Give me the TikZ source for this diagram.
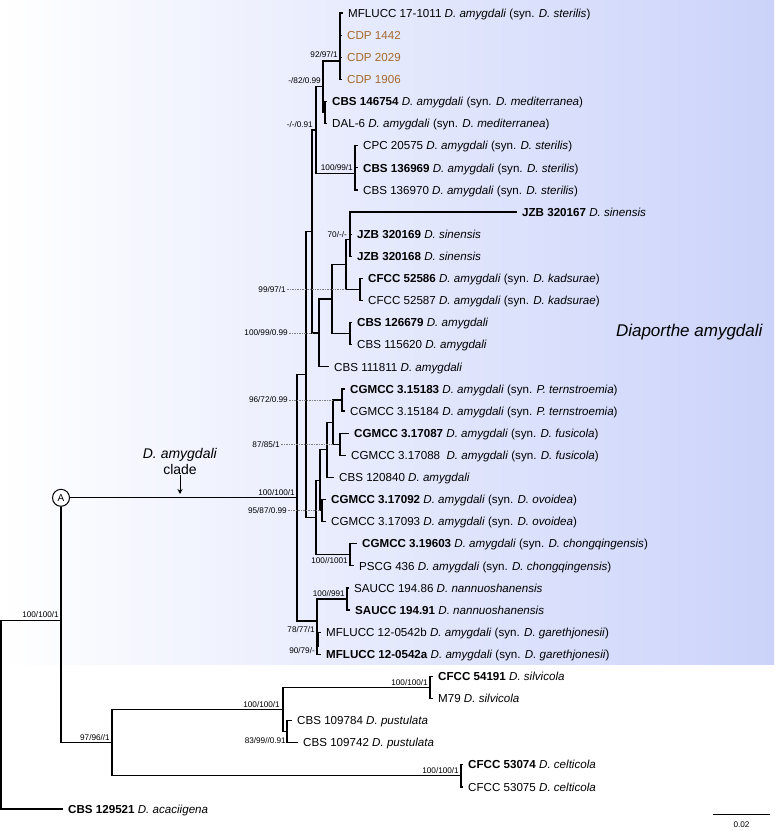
\documentclass[tikz,border=0pt]{standalone}
\usepackage{fontspec}
\setmainfont{Liberation Sans}
\usetikzlibrary{arrows.meta}
\definecolor{cladeblue}{RGB}{203,211,250}
\definecolor{cdpbrown}{RGB}{165,105,45}
\begin{document}
\begin{tikzpicture}[x=1pt,y=-1pt,
  br/.style={line width=1.2pt},
  leaf/.style={anchor=west, inner xsep=5pt, inner ysep=0pt, text height=8.4pt, text depth=0pt, font=\fontsize{11.6}{13}\selectfont},
  sup/.style={inner sep=1pt, font=\fontsize{8.2}{9}\selectfont},
  leader/.style={gray, line width=0.5pt, dash pattern=on 1.5pt off 1pt}]
\useasboundingbox (0,0) rectangle (774,830);
\shade[left color=white, right color=cladeblue] (0,0) rectangle (774,664);

% internal nodes
\coordinate (R0) at (1,714.6);
\coordinate (nA0) at (61,620.2);
\coordinate (nClade) at (297,497.8);
\coordinate (W) at (306,374.5);
\coordinate (X) at (312,231.5);
\coordinate (M) at (316,130);
\coordinate (N2) at (323,86.7);
\coordinate (N1) at (340,61);
\coordinate (N4) at (325,112.5);
\coordinate (N3) at (355,173.3);
\coordinate (Y) at (319,332.9);
\coordinate (Z) at (332,299);
\coordinate (P) at (346,264.5);
\coordinate (Q) at (350,239.6);
\coordinate (R) at (360,289.4);
\coordinate (Q2) at (350,333.6);
\coordinate (V) at (316,517.4);
\coordinate (U) at (320,480.1);
\coordinate (K) at (327,449.7);
\coordinate (J) at (333,422.1);
\coordinate (G83) at (342,400);
\coordinate (G87) at (340,444.2);
\coordinate (G92) at (322,510.5);
\coordinate (G19) at (350,554.7);
\coordinate (nM) at (317,621);
\coordinate (S86) at (347,599);
\coordinate (n97) at (112,742.6);
\coordinate (n100) at (283,709.5);
\coordinate (nSil) at (430,687.4);
\coordinate (nPus) at (287,731.6);
\coordinate (nCel) at (461,775.8);

% leaves
\node[leaf] (L1) at (343,13.0) {MFLUCC 17-1011 \textit{D. amygdali} (syn. \textit{D. sterilis})};
\node[leaf,text=cdpbrown] (L2) at (342,35.1) {CDP 1442};
\node[leaf,text=cdpbrown] (L3) at (342,57.2) {CDP 2029};
\node[leaf,text=cdpbrown] (L4) at (342,79.3) {CDP 1906};
\node[leaf] (L5) at (327,101.4) {\textbf{CBS 146754} \textit{D. amygdali} (syn. \textit{D. mediterranea})};
\node[leaf] (L6) at (327,123.6) {DAL-6 \textit{D. amygdali} (syn. \textit{D. mediterranea})};
\node[leaf] (L7) at (358,145.7) {CPC 20575 \textit{D. amygdali} (syn. \textit{D. sterilis})};
\node[leaf] (L8) at (358,167.8) {\textbf{CBS 136969} \textit{D. amygdali} (syn. \textit{D. sterilis})};
\node[leaf] (L9) at (358,189.9) {CBS 136970 \textit{D. amygdali} (syn. \textit{D. sterilis})};
\node[leaf] (L10) at (517,212.0) {\textbf{JZB 320167} \textit{D. sinensis}};
\node[leaf] (L11) at (352,234.1) {\textbf{JZB 320169} \textit{D. sinensis}};
\node[leaf] (L12) at (352,256.2) {\textbf{JZB 320168} \textit{D. sinensis}};
\node[leaf] (L13) at (363,278.3) {\textbf{CFCC 52586} \textit{D. amygdali} (syn. \textit{D. kadsurae})};
\node[leaf] (L14) at (363,300.4) {CFCC 52587 \textit{D. amygdali} (syn. \textit{D. kadsurae})};
\node[leaf] (L15) at (352,322.5) {\textbf{CBS 126679} \textit{D. amygdali}};
\node[leaf] (L16) at (352,344.7) {CBS 115620 \textit{D. amygdali}};
\node[leaf] (L17) at (329,366.8) {CBS 111811 \textit{D. amygdali}};
\node[leaf] (L18) at (345,388.9) {\textbf{CGMCC 3.15183} \textit{D. amygdali} (syn. \textit{P. ternstroemia})};
\node[leaf] (L19) at (345,411.0) {CGMCC 3.15184 \textit{D. amygdali} (syn. \textit{P. ternstroemia})};
\node[leaf] (L20) at (349,433.1) {\textbf{CGMCC 3.17087} \textit{D. amygdali} (syn. \textit{D. fusicola})};
\node[leaf] (L21) at (346,455.2) {CGMCC 3.17088\ \ \textit{D. amygdali} (syn. \textit{D. fusicola})};
\node[leaf] (L22) at (334,477.3) {CBS 120840 \textit{D. amygdali}};
\node[leaf] (L23) at (326,499.4) {\textbf{CGMCC 3.17092} \textit{D. amygdali} (syn. \textit{D. ovoidea})};
\node[leaf] (L24) at (326,521.5) {CGMCC 3.17093 \textit{D. amygdali} (syn. \textit{D. ovoidea})};
\node[leaf] (L25) at (357,543.6) {\textbf{CGMCC 3.19603} \textit{D. amygdali} (syn. \textit{D. chongqingensis})};
\node[leaf] (L26) at (354,565.8) {PSCG 436 \textit{D. amygdali} (syn. \textit{D. chongqingensis})};
\node[leaf] (L27) at (349,587.9) {SAUCC 194.86 \textit{D. nannuoshanensis}};
\node[leaf] (L28) at (350,610.0) {\textbf{SAUCC 194.91} \textit{D. nannuoshanensis}};
\node[leaf] (L29) at (321,632.1) {MFLUCC 12-0542b \textit{D. amygdali} (syn. \textit{D. garethjonesii})};
\node[leaf] (L30) at (321,654.2) {\textbf{MFLUCC 12-0542a} \textit{D. amygdali} (syn. \textit{D. garethjonesii})};
\node[leaf] (L31) at (433,676.3) {\textbf{CFCC 54191} \textit{D. silvicola}};
\node[leaf] (L32) at (433,698.4) {M79 \textit{D. silvicola}};
\node[leaf] (L33) at (292,720.5) {CBS 109784 \textit{D. pustulata}};
\node[leaf] (L34) at (298,742.6) {CBS 109742 \textit{D. pustulata}};
\node[leaf] (L35) at (463,764.7) {\textbf{CFCC 53074} \textit{D. celticola}};
\node[leaf] (L36) at (463,786.9) {CFCC 53075 \textit{D. celticola}};
\node[leaf] (L37) at (63,809.0) {\textbf{CBS 129521} \textit{D. acaciigena}};

% A node
\node[circle, draw, line width=1pt, fill=white, minimum size=17pt, inner sep=0pt, font=\fontsize{10}{11}\selectfont] (A) at (61,497.8) {A};

% branches
\draw[br] (R0) |- (nA0);
\draw[br] (R0) |- (L37.west);
\draw[br] (nA0) -- (A);
\draw[br] (nA0) |- (n97);
\draw[br] (A) -- (nClade);
\draw[br] (nClade) |- (W);
\draw[br] (nClade) |- (nM);
\draw[br] (W) |- (X);
\draw[br] (W) |- (V);
\draw[br] (X) |- (M);
\draw[br] (X) |- (Y);
\draw[br] (M) |- (N2);
\draw[br] (M) |- (N3);
\draw[br] (N2) |- (N1);
\draw[br] (N2) |- (N4);
\foreach \l in {L1,L2,L3,L4} \draw[br] (N1) |- (\l.west);
\foreach \l in {L5,L6} \draw[br] (N4) |- (\l.west);
\foreach \l in {L7,L8,L9} \draw[br] (N3) |- (\l.west);
\draw[br] (Y) |- (Z);
\draw[br] (Y) |- (L17.west);
\draw[br] (Z) |- (P);
\draw[br] (Z) |- (Q2);
\draw[br] (P) |- (Q);
\draw[br] (P) |- (R);
\foreach \l in {L10,L11,L12} \draw[br] (Q) |- (\l.west);
\foreach \l in {L13,L14} \draw[br] (R) |- (\l.west);
\foreach \l in {L15,L16} \draw[br] (Q2) |- (\l.west);
\draw[br] (V) |- (U);
\draw[br] (V) |- (G19);
\draw[br] (U) |- (K);
\draw[br] (U) |- (G92);
\draw[br] (K) |- (J);
\draw[br] (K) |- (L22.west);
\draw[br] (J) |- (G83);
\draw[br] (J) |- (G87);
\foreach \l in {L18,L19} \draw[br] (G83) |- (\l.west);
\foreach \l in {L20,L21} \draw[br] (G87) |- (\l.west);
\foreach \l in {L23,L24} \draw[br] (G92) |- (\l.west);
\foreach \l in {L25,L26} \draw[br] (G19) |- (\l.west);
\draw[br] (nM) |- (S86);
\draw[br] (nM) |- (L29.west);
\draw[br] (nM) |- (L30.west);
\draw[line width=3pt] (nM |- L29.west) -- ++(0,15);
\foreach \l in {L27,L28} \draw[br] (S86) |- (\l.west);
\draw[br] (n97) |- (n100);
\draw[br] (n97) |- (nCel);
\draw[br] (n100) |- (nSil);
\draw[br] (n100) |- (nPus);
\foreach \l in {L31,L32} \draw[br] (nSil) |- (\l.west);
\foreach \l in {L33,L34} \draw[br] (nPus) |- (\l.west);
\foreach \l in {L35,L36} \draw[br] (nCel) |- (\l.west);

% support values
\node[sup, anchor=south east] (s1) at (339,59) {92/97/1};
\node[sup, anchor=south east] (s2) at (322,85) {-/82/0.99};
\node[sup, anchor=south east] (s3) at (314,128.5) {-/-/0.91};
\node[sup, anchor=south east] (s4) at (354,172) {100/99/1};
\node[sup, anchor=east] (s5) at (348,235) {70/-/-};
\node[sup, anchor=east] (s6) at (287,289.4) {99/97/1};
\node[sup, anchor=east] (s7) at (289,332.9) {100/99/0.99};
\node[sup, anchor=east] (s8) at (289,400) {96/72/0.99};
\node[sup, anchor=east] (s9) at (281,444.2) {87/85/1};
\node[sup, anchor=south east] (s10) at (296,496.5) {100/100/1};
\node[sup, anchor=east] (s11) at (288,510.5) {95/87/0.99};
\node[sup, anchor=north east] (s12) at (349,556) {100//1001};
\node[sup, anchor=south east] (s13) at (346,598) {100//991};
\node[sup, anchor=east] (s14) at (316,630) {78/77/1};
\node[sup, anchor=east] (s15) at (316,651) {90/79/-};
\node[sup, anchor=south east] (s16) at (60,619) {100/100/1};
\node[sup, anchor=south east] (s17) at (111,741.5) {97/96//1};
\node[sup, anchor=south east] (s18) at (281,708.5) {100/100/1};
\node[sup, anchor=south east] (s19) at (429,686.5) {100/100/1};
\node[sup, anchor=east] (s20) at (287,740.5) {83/99//0.91};
\node[sup, anchor=south east] (s21) at (460,774.5) {100/100/1};

% leaders
\draw[leader] (s6.east) -- (P |- R);
\draw[leader] (s7.east) -- (X |- Y);
\draw[leader] (s8.east) -- (J |- G83);
\draw[leader] (s9.east) -- (J |- G87);
\draw[leader] (s11.east) -- (U |- G92);

% clade labels
\node[align=center, font=\fontsize{14}{16}\selectfont, inner sep=1pt] (cl) at (180,461) {\textit{D. amygdali}\\clade};
\coordinate (arrtip) at (180,494);
\draw[line width=1pt, -{Stealth[length=5pt,width=5pt]}] (cl.south) -- (arrtip);
\node[anchor=east, font=\fontsize{17}{20}\selectfont\itshape] (dam) at (766,332) {Diaporthe amygdali};

% scale bar
\coordinate (sb1) at (713,814);
\coordinate (sb2) at (770,814);
\draw[line width=0.8pt] (sb1) -- (sb2);
\node[sup] (sbl) at (741.5,825) {0.02};
\end{tikzpicture}
\end{document}
